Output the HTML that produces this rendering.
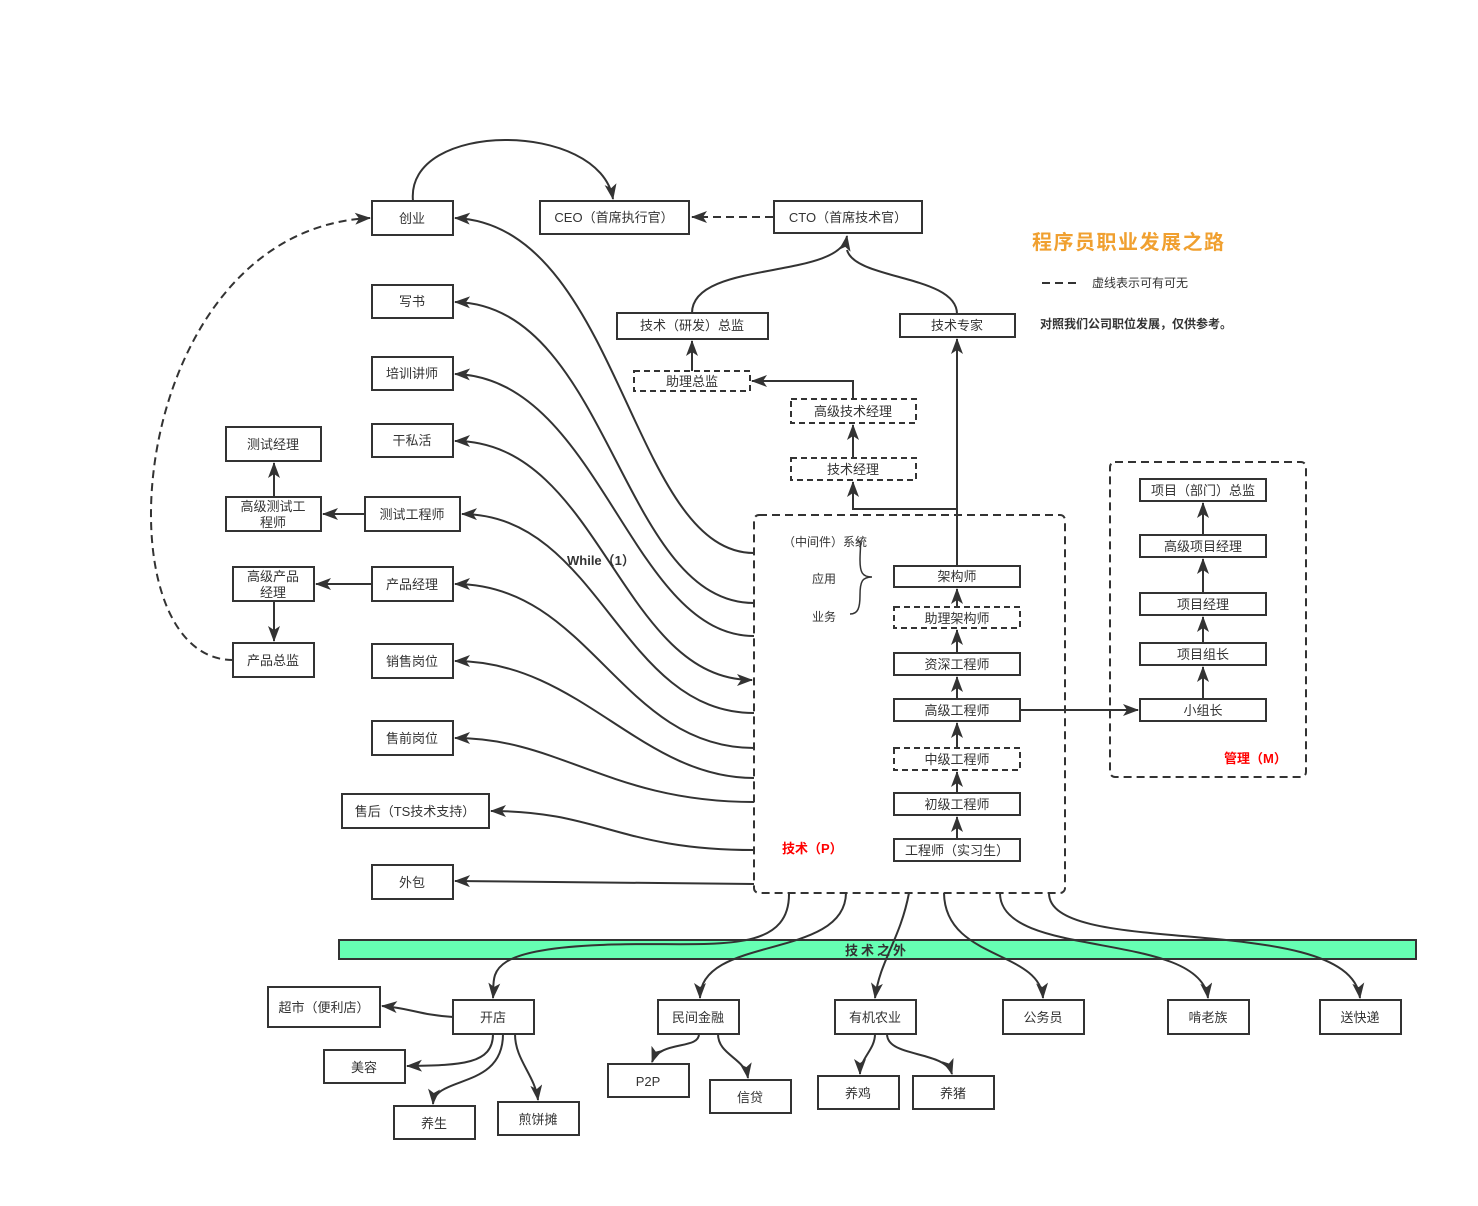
<!DOCTYPE html>
<html><head><meta charset="utf-8"><style>
html,body{margin:0;padding:0;background:#fff;}
svg text{font-family:"Liberation Sans","Noto Sans CJK SC",sans-serif;font-size:13px;fill:#333;}
</style></head><body>
<svg width="1478" height="1201" viewBox="0 0 1478 1201" xmlns="http://www.w3.org/2000/svg">
<defs>
<marker id="a" markerWidth="16" markerHeight="12" refX="15" refY="6" orient="auto" markerUnits="userSpaceOnUse"><path d="M0,0 L16,6 L0,12 L4,6 z" fill="#333"/></marker>
<marker id="s" markerWidth="16" markerHeight="12" refX="1" refY="6" orient="auto" markerUnits="userSpaceOnUse"><path d="M16,0 L0,6 L16,12 L12,6 z" fill="#333"/></marker>
</defs>
<rect width="1478" height="1201" fill="#fff"/>
<g fill="none" stroke="#333" stroke-width="2">
<rect x="754" y="515" width="311" height="378" rx="5" stroke-dasharray="8,5"/>
<rect x="1110" y="462" width="196" height="315" rx="5" stroke-dasharray="8,5"/>
</g>
<rect x="339" y="940" width="1077" height="19" fill="#66ffb3" stroke="#333" stroke-width="2"/>
<g fill="none" stroke="#333" stroke-width="2">
<rect x="372" y="201" width="81" height="34"/>
<rect x="540" y="201" width="149" height="33"/>
<rect x="774" y="201" width="148" height="32"/>
<rect x="372" y="285" width="81" height="33"/>
<rect x="372" y="357" width="81" height="33"/>
<rect x="372" y="424" width="81" height="33"/>
<rect x="226" y="427" width="95" height="34"/>
<rect x="226" y="497" width="95" height="34"/>
<rect x="365" y="497" width="95" height="34"/>
<rect x="233" y="567" width="81" height="34"/>
<rect x="372" y="567" width="81" height="34"/>
<rect x="233" y="643" width="81" height="34"/>
<rect x="372" y="644" width="81" height="34"/>
<rect x="372" y="721" width="81" height="34"/>
<rect x="342" y="794" width="147" height="34"/>
<rect x="372" y="865" width="81" height="34"/>
<rect x="617" y="313" width="151" height="26"/>
<rect x="900" y="314" width="115" height="23"/>
<rect x="634" y="371" width="116" height="20" stroke-dasharray="6,4"/>
<rect x="791" y="399" width="125" height="24" stroke-dasharray="6,4"/>
<rect x="791" y="458" width="125" height="22" stroke-dasharray="6,4"/>
<rect x="894" y="566" width="126" height="21"/>
<rect x="894" y="607" width="126" height="21" stroke-dasharray="6,4"/>
<rect x="894" y="653" width="126" height="22"/>
<rect x="894" y="699" width="126" height="22"/>
<rect x="894" y="748" width="126" height="22" stroke-dasharray="6,4"/>
<rect x="894" y="793" width="126" height="22"/>
<rect x="894" y="839" width="126" height="22"/>
<rect x="1140" y="479" width="126" height="22"/>
<rect x="1140" y="535" width="126" height="22"/>
<rect x="1140" y="593" width="126" height="22"/>
<rect x="1140" y="643" width="126" height="22"/>
<rect x="1140" y="699" width="126" height="22"/>
<rect x="268" y="987" width="112" height="40"/>
<rect x="453" y="1000" width="81" height="34"/>
<rect x="324" y="1050" width="81" height="33"/>
<rect x="394" y="1106" width="81" height="33"/>
<rect x="498" y="1102" width="81" height="33"/>
<rect x="658" y="1000" width="81" height="34"/>
<rect x="608" y="1064" width="81" height="33"/>
<rect x="710" y="1080" width="81" height="33"/>
<rect x="835" y="1000" width="81" height="34"/>
<rect x="818" y="1076" width="81" height="33"/>
<rect x="913" y="1076" width="81" height="33"/>
<rect x="1003" y="1000" width="81" height="34"/>
<rect x="1168" y="1000" width="81" height="34"/>
<rect x="1320" y="1000" width="81" height="34"/>

<path d="M413,201 C405,120 600,120 613,199" marker-end="url(#a)"/>
<path d="M773,217 L692,217" stroke-dasharray="8,5" marker-end="url(#a)"/>
<path d="M1042,283 L1080,283" stroke-dasharray="8,5"/>
<path d="M692,313 C692,260 840,280 847,236" marker-end="url(#a)"/>
<path d="M957,314 C957,275 855,280 847,250"/>
<path d="M692,371 L692,341" marker-end="url(#a)"/>
<path d="M853,399 L853,381 L752,381" marker-end="url(#a)"/>
<path d="M853,458 L853,425" marker-end="url(#a)"/>
<path d="M957,566 L957,509 L853,509 L853,482" marker-end="url(#a)"/>
<path d="M957,509 L957,339" marker-end="url(#a)"/>
<path d="M957,607 L957,589" marker-end="url(#a)"/>
<path d="M957,653 L957,630" marker-end="url(#a)"/>
<path d="M957,699 L957,677" marker-end="url(#a)"/>
<path d="M957,748 L957,723" marker-end="url(#a)"/>
<path d="M957,793 L957,772" marker-end="url(#a)"/>
<path d="M957,839 L957,817" marker-end="url(#a)"/>
<path d="M1020,710 L1138,710" marker-end="url(#a)"/>
<path d="M1203,699 L1203,667" marker-end="url(#a)"/>
<path d="M1203,643 L1203,617" marker-end="url(#a)"/>
<path d="M1203,593 L1203,559" marker-end="url(#a)"/>
<path d="M1203,535 L1203,503" marker-end="url(#a)"/>
<path d="M858,541 C862,541 860,548 860,560 C860,572 862,577 872,577 C862,577 860,582 860,595 C860,608 858,614 850,614" stroke-width="1.5"/>
<path d="M274,497 L274,463" marker-end="url(#a)"/>
<path d="M365,514 L323,514" marker-end="url(#a)"/>
<path d="M372,584 L316,584" marker-end="url(#a)"/>
<path d="M274,601 L274,641" marker-end="url(#a)"/>
<path d="M233,660 C95,660 125,230 370,218" stroke-dasharray="8,5" marker-end="url(#a)"/>
<path d="M754,553 C630,553 620,225 455,218" marker-end="url(#a)"/>
<path d="M754,603 C620,603 610,305 455,302" marker-end="url(#a)"/>
<path d="M754,636 C630,636 600,378 455,374" marker-end="url(#a)"/>
<path d="M455,441 C600,441 620,680 752,680" marker-start="url(#s)" marker-end="url(#a)"/>
<path d="M754,713 C620,713 600,515 462,514" marker-end="url(#a)"/>
<path d="M754,748 C620,748 590,584 455,584" marker-end="url(#a)"/>
<path d="M754,778 C640,778 580,661 455,661" marker-end="url(#a)"/>
<path d="M754,802 C610,802 560,738 455,738" marker-end="url(#a)"/>
<path d="M754,850 C620,850 600,811 491,811" marker-end="url(#a)"/>
<path d="M754,884 L455,881" marker-end="url(#a)"/>
<path d="M789,893 C790,960 700,940 600,945 C480,950 495,975 493,998" marker-end="url(#a)"/>
<path d="M846,893 C845,960 700,935 700,998" marker-end="url(#a)"/>
<path d="M909,893 C900,940 880,960 875,998" marker-end="url(#a)"/>
<path d="M944,893 C945,960 1040,950 1043,998" marker-end="url(#a)"/>
<path d="M1000,893 C1000,960 1200,930 1208,998" marker-end="url(#a)"/>
<path d="M1049,893 C1049,960 1350,910 1360,998" marker-end="url(#a)"/>
<path d="M453,1017 C420,1015 410,1008 382,1006" marker-end="url(#a)"/>
<path d="M493,1034 C493,1065 460,1065 407,1066" marker-end="url(#a)"/>
<path d="M503,1034 C503,1090 435,1075 433,1104" marker-end="url(#a)"/>
<path d="M515,1034 C515,1060 535,1075 538,1100" marker-end="url(#a)"/>
<path d="M699,1034 C699,1050 660,1040 652,1062" marker-end="url(#a)"/>
<path d="M718,1034 C718,1055 745,1058 748,1078" marker-end="url(#a)"/>
<path d="M875,1034 C875,1050 860,1058 860,1074" marker-end="url(#a)"/>
<path d="M887,1034 C887,1058 945,1050 952,1074" marker-end="url(#a)"/>
</g>
<g text-anchor="middle">
<text x="412" y="223">创业</text>
<text x="614" y="222">CEO（首席执行官）</text>
<text x="848" y="222">CTO（首席技术官）</text>
<text x="412" y="306">写书</text>
<text x="412" y="378">培训讲师</text>
<text x="412" y="445">干私活</text>
<text x="273" y="449">测试经理</text>
<text x="273" y="511">高级测试工</text>
<text x="273" y="527">程师</text>
<text x="412" y="519">测试工程师</text>
<text x="273" y="581">高级产品</text>
<text x="273" y="597">经理</text>
<text x="412" y="589">产品经理</text>
<text x="273" y="665">产品总监</text>
<text x="412" y="666">销售岗位</text>
<text x="412" y="743">售前岗位</text>
<text x="415" y="816">售后（TS技术支持）</text>
<text x="412" y="887">外包</text>
<text x="692" y="330">技术（研发）总监</text>
<text x="957" y="330">技术专家</text>
<text x="692" y="386">助理总监</text>
<text x="853" y="416">高级技术经理</text>
<text x="853" y="474">技术经理</text>
<text x="957" y="581">架构师</text>
<text x="957" y="623">助理架构师</text>
<text x="957" y="669">资深工程师</text>
<text x="957" y="715">高级工程师</text>
<text x="957" y="764">中级工程师</text>
<text x="957" y="809">初级工程师</text>
<text x="957" y="855">工程师（实习生）</text>
<text x="1203" y="495">项目（部门）总监</text>
<text x="1203" y="551">高级项目经理</text>
<text x="1203" y="609">项目经理</text>
<text x="1203" y="659">项目组长</text>
<text x="1203" y="715">小组长</text>
<text x="324" y="1012">超市（便利店）</text>
<text x="493" y="1022">开店</text>
<text x="364" y="1072">美容</text>
<text x="434" y="1128">养生</text>
<text x="538" y="1124">煎饼摊</text>
<text x="698" y="1022">民间金融</text>
<text x="648" y="1086">P2P</text>
<text x="750" y="1102">信贷</text>
<text x="875" y="1022">有机农业</text>
<text x="858" y="1098">养鸡</text>
<text x="953" y="1098">养猪</text>
<text x="1043" y="1022">公务员</text>
<text x="1208" y="1022">啃老族</text>
<text x="1360" y="1022">送快递</text>
<text x="877" y="955" style="font-weight:bold;letter-spacing:3px">技术之外</text>
</g>
<text x="783" y="546" style="font-size:12px">（中间件）系统</text>
<text x="812" y="583" style="font-size:12px">应用</text>
<text x="812" y="621" style="font-size:12px">业务</text>
<text x="782" y="853" style="fill:#f00;font-weight:bold">技术（P）</text>
<text x="1224" y="763" style="fill:#f00;font-weight:bold">管理（M）</text>
<text x="567" y="565" style="font-weight:bold">While（1）</text>
<text x="1032" y="249" style="fill:#f0a030;font-weight:bold;font-size:20px;letter-spacing:1.5px">程序员职业发展之路</text>
<text x="1092" y="287" style="font-size:12px">虚线表示可有可无</text>
<text x="1040" y="328" style="font-weight:bold;font-size:12px">对照我们公司职位发展，仅供参考。</text>
</svg>
</body></html>
